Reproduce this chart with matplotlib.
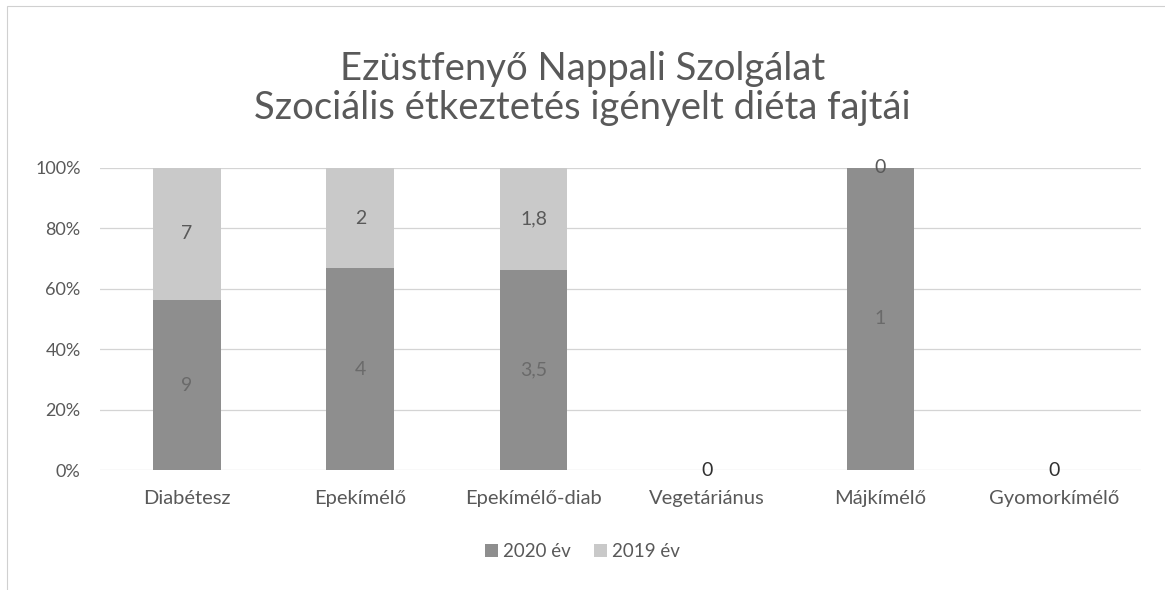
import matplotlib.pyplot as plt
import numpy as np
from matplotlib.patches import Rectangle

plt.rcParams["font.family"] = ["Lato", "DejaVu Sans"]

categories = ["Diabétesz", "Epekímélő", "Epekímélő-diab", "Vegetáriánus",
              "Májkímélő", "Gyomorkímélő"]
val_2020 = [9, 4, 3.5, 0, 1, 0]
val_2019 = [7, 2, 1.8, 0, 0, 0]
lab_2020 = ["9", "4", "3,5", "0", "1", "0"]
lab_2019 = ["7", "2", "1,8", "0", "0", "0"]

DARK = "#8e8e8e"
LIGHT = "#c9c9c9"
TEXT = "#595959"

a = np.array(val_2020, dtype=float)
b = np.array(val_2019, dtype=float)
tot = a + b
with np.errstate(invalid="ignore", divide="ignore"):
    pa = np.where(tot > 0, a / tot * 100, 0)
    pb = np.where(tot > 0, b / tot * 100, 0)

fig = plt.figure(figsize=(11.65, 5.9), dpi=100)
ax = fig.add_axes([0.086, 0.203, 0.893, 0.513])

x = np.arange(len(categories))
w = 0.39
ax.bar(x, pa, w, color=DARK, zorder=2, label="2020 év")
ax.bar(x, pb, w, bottom=pa, color=LIGHT, zorder=2, label="2019 év")

for i in range(len(categories)):
    if tot[i] == 0:
        ax.text(x[i], 0, lab_2020[i], ha="center", va="center",
                fontsize=14, color="#303030", zorder=4)
        continue
    ax.text(x[i], pa[i] / 2, lab_2020[i], ha="center", va="center",
            fontsize=14, color="#6a6a6a", zorder=4)
    ax.text(x[i], pa[i] + pb[i] / 2, lab_2019[i], ha="center", va="center",
            fontsize=14, color=TEXT, zorder=4)

ax.set_xlim(-0.5, len(categories) - 0.5)
ax.set_ylim(0, 100)
ax.set_yticks(range(0, 101, 20))
ax.set_yticklabels([f"{v}%" for v in range(0, 101, 20)])
ax.set_xticks(x)
ax.set_xticklabels(categories)
ax.yaxis.grid(True, color="#d4d4d4", linewidth=0.9, zorder=0)
for s in ax.spines.values():
    s.set_visible(False)
ax.tick_params(axis="both", length=0, labelsize=13, colors=TEXT)
ax.tick_params(axis="x", pad=14, labelsize=14.5)
ax.tick_params(axis="y", pad=14)

fig.text(0.5, 0.85, "Ezüstfenyő Nappali Szolgálat\nSzociális étkeztetés igényelt diéta fajtái",
         ha="center", va="center", fontsize=27.5, color=TEXT, linespacing=1.1)

fig.legend(loc="center", bbox_to_anchor=(0.5, 0.065), ncol=2, frameon=False,
           fontsize=13.5, handlelength=0.7, handleheight=0.7, columnspacing=1.2,
           handletextpad=0.3, labelcolor=TEXT)

fig.patches.append(Rectangle((0.006, -0.01), 1.0, 1.0, transform=fig.transFigure,
                             fill=False, edgecolor="#d0d0d0", linewidth=0.8))

fig.savefig("out.png", dpi=100)
